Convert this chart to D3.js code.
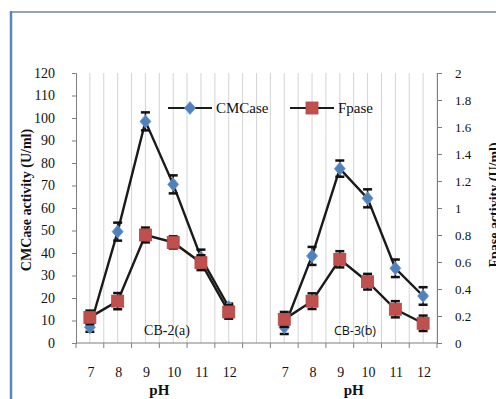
<!DOCTYPE html>
<html>
<head>
<meta charset="utf-8">
<script src="https://cdn.jsdelivr.net/npm/d3@7/dist/d3.min.js"></script>
<style>
  html, body { margin: 0; padding: 0; background: #ffffff; overflow: hidden; }
  svg { display: block; }
  text { font-family: "Liberation Serif", "Times New Roman", serif; fill: #111; }
</style>
</head>
<body>
<script>
// pH levels tested for each strain
const phLevels = [7, 8, 9, 10, 11, 12];
const strains = ["CB-2(a)", "CB-3(b)"];

// CMCase activity (U/ml), left axis
const cmcaseCB2 = [7, 49.5, 98.5, 70.5, 38, 16];
const cmcaseErrCB2 = [2, 4, 4, 4, 3.5, 1.5];
const cmcaseCB3 = [7, 38.7, 77.5, 64.3, 33.2, 20.9];
const cmcaseErrCB3 = [3, 4, 3.6, 4, 3.9, 3.9];

// Fpase activity (U/ml), right axis
const fpaseCB2 = [0.19, 0.31, 0.80, 0.745, 0.595, 0.23];
const fpaseErrCB2 = [0.05, 0.06, 0.055, 0.045, 0.055, 0.05];
const fpaseCB3 = [0.175, 0.31, 0.62, 0.454, 0.25, 0.146];
const fpaseErrCB3 = [0.055, 0.058, 0.06, 0.058, 0.06, 0.057];

// axis ticks
const leftTicks = d3.range(0, 121, 10);
const rightTicks = [0, 0.2, 0.4, 0.6, 0.8, 1, 1.2, 1.4, 1.6, 1.8, 2];

const W = 496, H = 399;
const plot = { left: 76, right: 437, top: 73, bottom: 343 };

const svg = d3.select("body").append("svg").attr("width", W).attr("height", H);

// outer frame
svg.append("line").attr("x1", 11).attr("x2", W + 2).attr("y1", 12).attr("y2", 12)
  .attr("stroke", "#8da3c0").attr("stroke-width", 2);
svg.append("line").attr("x1", 11).attr("x2", 11).attr("y1", 11).attr("y2", H + 2)
  .attr("stroke", "#5b86c0").attr("stroke-width", 2.5);

// 13 slots: six pH levels per strain with one empty slot between strains
const slots = d3.range(13);
const slotOf = (g, i) => g * 7 + i;
const x = d3.scaleBand().domain(slots).range([plot.left, plot.right]).padding(0);
const cx = s => x(s) + x.bandwidth() / 2;

const yL = d3.scaleLinear().domain([0, 120]).range([plot.bottom, plot.top]);
const yR = d3.scaleLinear().domain([0, 2]).range([plot.bottom, plot.top]);

// vertical gridlines at every half slot
const gridX = [];
slots.forEach(s => { gridX.push(x(s) + x.bandwidth() / 2); if (s > 0) gridX.push(x(s)); });
gridX.push(plot.right);
svg.append("g").selectAll("line").data(gridX).join("line")
  .attr("x1", d => d).attr("x2", d => d)
  .attr("y1", plot.top).attr("y2", plot.bottom)
  .attr("stroke", "#d4d4d4").attr("stroke-width", 1);

// left axis
const gL = svg.append("g").attr("transform", `translate(${plot.left},0)`)
  .call(d3.axisLeft(yL).tickValues(leftTicks).tickSize(4).tickPadding(17));
gL.select(".domain").attr("stroke", "#7f7f7f");
gL.selectAll(".tick line").attr("stroke", "#7f7f7f");
gL.selectAll(".tick text").attr("font-family", "Liberation Serif").attr("font-size", 14).attr("fill", "#111");

// right axis
const gR = svg.append("g").attr("transform", `translate(${plot.right},0)`)
  .call(d3.axisRight(yR).tickValues(rightTicks).tickSize(5).tickPadding(13).tickFormat(d3.format("~g")));
gR.select(".domain").attr("stroke", "#7f7f7f");
gR.selectAll(".tick line").attr("stroke", "#7f7f7f");
gR.selectAll(".tick text").attr("font-family", "Liberation Serif").attr("font-size", 13).attr("fill", "#222");

// bottom axis line with ticks at slot boundaries
svg.append("line").attr("x1", plot.left).attr("x2", plot.right)
  .attr("y1", plot.bottom).attr("y2", plot.bottom).attr("stroke", "#7f7f7f");
svg.append("g").selectAll("line").data(slots.map(s => x(s)).concat([plot.right])).join("line")
  .attr("x1", d => d).attr("x2", d => d)
  .attr("y1", plot.bottom).attr("y2", plot.bottom + 5).attr("stroke", "#7f7f7f");

// pH tick labels and axis titles per strain
strains.forEach((name, g) => {
  svg.append("g").selectAll("text").data(phLevels).join("text")
    .attr("x", (d, i) => cx(slotOf(g, i)) + 1)
    .attr("y", 377)
    .attr("text-anchor", "middle").attr("font-size", 14)
    .text(d => d);
  const mid = (cx(slotOf(g, 0)) + cx(slotOf(g, 5))) / 2;
  svg.append("text").attr("x", mid).attr("y", 395)
    .attr("text-anchor", "middle").attr("font-size", 15).attr("font-weight", "bold")
    .text("pH");
});

// strain labels inside the plot
svg.append("text").attr("x", 167).attr("y", 335).attr("text-anchor", "middle")
  .attr("font-size", 14).text(strains[0]);
svg.append("text").attr("x", 355).attr("y", 335).attr("text-anchor", "middle")
  .attr("font-family", "Open Sans").style("font-family", "'Open Sans', sans-serif")
  .attr("font-size", 12.5).text(strains[1]);

// y-axis titles
svg.append("text").attr("transform", "translate(31,200) rotate(-90)")
  .attr("text-anchor", "middle").attr("font-size", 14).attr("font-weight", "bold")
  .text("CMCase activity (U/ml)");
svg.append("text").attr("transform", "translate(499,205) rotate(-90)")
  .attr("text-anchor", "middle").attr("font-size", 14).attr("font-weight", "bold")
  .text("Fpase activity (U/ml)");

const series = [
  { name: "CMCase", scale: yL, data: [cmcaseCB2, cmcaseCB3], err: [cmcaseErrCB2, cmcaseErrCB3], marker: "diamond" },
  { name: "Fpase", scale: yR, data: [fpaseCB2, fpaseCB3], err: [fpaseErrCB2, fpaseErrCB3], marker: "square" }
];

const diamondPath = "M0,-6.5L5.5,0L0,6.5L-5.5,0Z";

function drawMarker(sel, kind) {
  if (kind === "diamond") {
    sel.append("path").attr("d", diamondPath).attr("fill", "#4f81bd").attr("stroke", "#6f98cc").attr("stroke-width", 0.8);
  } else {
    sel.append("rect").attr("x", -6).attr("y", -6).attr("width", 12).attr("height", 12)
      .attr("fill", "#c0504d").attr("stroke", "#b04541").attr("stroke-width", 0.8);
  }
}

series.forEach(s => {
  s.data.forEach((vals, g) => {
    const pts = vals.map((v, i) => ({ x: cx(slotOf(g, i)), v, e: s.err[g][i] }));
    const layer = svg.append("g");
    layer.append("path").datum(pts)
      .attr("d", d3.line().x(d => d.x).y(d => s.scale(d.v)))
      .attr("fill", "none").attr("stroke", "#1a1a1a").attr("stroke-width", 2.4);
    // error bars
    const eb = layer.append("g").selectAll("g").data(pts).join("g");
    eb.append("line").attr("x1", d => d.x).attr("x2", d => d.x)
      .attr("y1", d => s.scale(d.v - d.e)).attr("y2", d => s.scale(d.v + d.e))
      .attr("stroke", "#111").attr("stroke-width", 1.5);
    [-1, 1].forEach(sign => {
      eb.append("line").attr("x1", d => d.x - 4.5).attr("x2", d => d.x + 4.5)
        .attr("y1", d => s.scale(d.v + sign * d.e)).attr("y2", d => s.scale(d.v + sign * d.e))
        .attr("stroke", "#111").attr("stroke-width", 2.5);
    });
    const mk = layer.append("g").selectAll("g").data(pts).join("g")
      .attr("transform", d => `translate(${d.x},${s.scale(d.v)})`);
    drawMarker(mk, s.marker);
  });
});

// legend
const legend = [
  { name: "CMCase", marker: "diamond", x0: 168 },
  { name: "Fpase", marker: "square", x0: 290 }
];
legend.forEach(l => {
  const g = svg.append("g").attr("transform", `translate(${l.x0},108)`);
  g.append("line").attr("x1", 0).attr("x2", 44).attr("y1", 0).attr("y2", 0)
    .attr("stroke", "#1a1a1a").attr("stroke-width", 2.2);
  drawMarker(g.append("g").attr("transform", "translate(22,0)"), l.marker);
  g.append("text").attr("x", 48).attr("y", 5).attr("font-size", 15).text(l.name);
});
</script>
</body>
</html>
